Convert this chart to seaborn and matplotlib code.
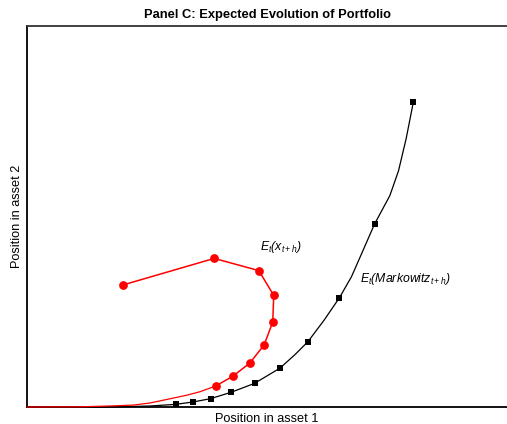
import numpy as np
import pandas as pd
import matplotlib
matplotlib.use("Agg")
import matplotlib.pyplot as plt
import seaborn as sns

# Expected position path E_t(x_{t+h}) (red) and its smooth tail toward the origin
pos_x1 = [0.199, 0.390, 0.483, 0.514, 0.512, 0.494, 0.464, 0.429, 0.393]
pos_x2 = [0.320, 0.390, 0.358, 0.293, 0.223, 0.163, 0.115, 0.081, 0.055]
pos_tail_x1 = [0.393, 0.360, 0.333, 0.292, 0.256, 0.221, 0.173, 0.110, 0.0]
pos_tail_x2 = [0.055, 0.040, 0.031, 0.020, 0.0105, 0.005, 0.0026, 0.0005, 0.0]

# Expected Markowitz portfolio path E_t(Markowitz_{t+h}) (black) and its curve
mk_x1 = [0.310, 0.345, 0.383, 0.426, 0.474, 0.527, 0.585, 0.651, 0.724, 0.805]
mk_x2 = [0.007, 0.013, 0.022, 0.039, 0.062, 0.102, 0.171, 0.287, 0.480, 0.801]
mk_curve_x1 = [0.0, 0.152, 0.215, 0.256, 0.310, 0.345, 0.383, 0.426, 0.474,
               0.527, 0.557, 0.585, 0.619, 0.651, 0.676, 0.698, 0.724,
               0.756, 0.774, 0.790, 0.805]
mk_curve_x2 = [0.0, 0.0, 0.0013, 0.0026, 0.007, 0.013, 0.022, 0.039, 0.062,
               0.102, 0.136, 0.171, 0.228, 0.287, 0.342, 0.405, 0.480,
               0.555, 0.620, 0.705, 0.801]

title = "Panel C: Expected Evolution of Portfolio"
xlabel = "Position in asset 1"
ylabel = "Position in asset 2"
label_pos = r"$E_t(x_{t+h})$"
label_mk = r"$E_t(Markowitz_{t+h})$"

sns.set_style("white")
plt.rcParams["font.family"] = ["Liberation Sans", "DejaVu Sans"]
plt.rcParams["text.color"] = "black"
plt.rcParams["axes.labelcolor"] = "black"
plt.rcParams["mathtext.fontset"] = "custom"
plt.rcParams["mathtext.it"] = "Liberation Sans:italic"
plt.rcParams["mathtext.rm"] = "Liberation Sans:italic"
plt.rcParams["mathtext.default"] = "it"

fig = plt.figure(figsize=(5.07, 4.24), dpi=100)
ax = fig.add_axes([27 / 507, 17 / 424, 1 - 27 / 507, 381 / 424])

red_tail = pd.DataFrame({"x1": pos_tail_x1, "x2": pos_tail_x2})
red_pts = pd.DataFrame({"x1": pos_x1, "x2": pos_x2})
blk_curve = pd.DataFrame({"x1": mk_curve_x1, "x2": mk_curve_x2})
blk_pts = pd.DataFrame({"x1": mk_x1, "x2": mk_x2})

sns.lineplot(data=blk_curve, x="x1", y="x2", sort=False, estimator=None,
             color="black", linewidth=0.9, ax=ax, zorder=3, clip_on=False)
sns.lineplot(data=blk_pts, x="x1", y="x2", sort=False, estimator=None,
             color="black", linewidth=0, marker="s", markersize=5,
             markeredgewidth=0, ax=ax, zorder=4, clip_on=False)
sns.lineplot(data=red_tail, x="x1", y="x2", sort=False, estimator=None,
             color="red", linewidth=0.9, ax=ax, zorder=5, clip_on=False)
sns.lineplot(data=red_pts, x="x1", y="x2", sort=False, estimator=None,
             color="red", linewidth=1.1, marker="o", markersize=6.3,
             markeredgewidth=0, ax=ax, zorder=6, clip_on=False)

ax.set_xlim(0, 1)
ax.set_ylim(0, 1)
ax.set_xticks([])
ax.set_yticks([])
ax.set_xlabel(xlabel, fontsize=9.2, labelpad=4.5)
ax.set_ylabel(ylabel, fontsize=9.2, labelpad=3)
ax.set_title(title, fontsize=9.3, fontweight="bold", pad=6, color="black")

for side in ["left", "bottom"]:
    ax.spines[side].set_color("black")
    ax.spines[side].set_linewidth(1.3)
ax.spines["top"].set_color("#333333")
ax.spines["top"].set_linewidth(1.3)
ax.spines["right"].set_visible(False)

ax.text(0.485, 0.42, label_pos, fontsize=8.8, ha="left", va="center")
ax.text(0.694, 0.337, label_mk, fontsize=8.8, ha="left", va="center")

fig.savefig("out.png", dpi=100)
